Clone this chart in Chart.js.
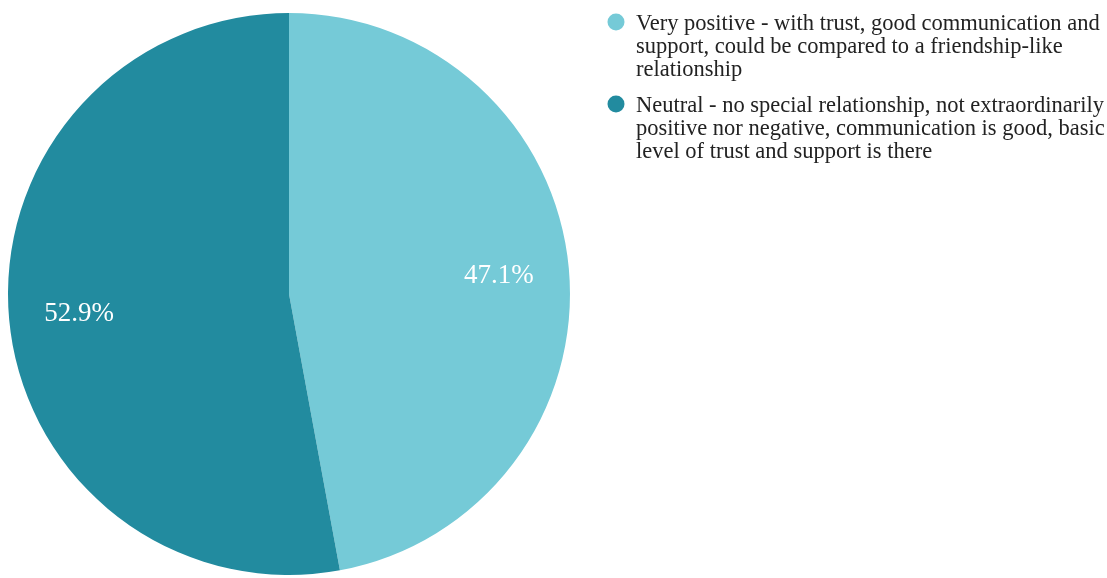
<!DOCTYPE html>
<html>
<head>
<meta charset="utf-8">
<script src="https://cdn.jsdelivr.net/npm/chart.js@4"></script>
<style>
  html, body { margin: 0; padding: 0; background: #fff; }
  #wrap { width: 1107px; height: 578px; position: relative; }
</style>
</head>
<body>
<div id="wrap"><canvas id="relChart"></canvas></div>
<script>
// answers, each legend entry split into its printed lines
var labelLines = [
  ['Very positive - with trust, good communication and',
   'support, could be compared to a friendship-like',
   'relationship'],
  ['Neutral - no special relationship, not extraordinarily',
   'positive nor negative, communication is good, basic',
   'level of trust and support is there']
];
var shares = [47.1, 52.9];
var colors = ['#75cad7', '#228b9f'];

// percent text inside each slice
var sliceLabels = {
  id: 'sliceLabels',
  afterDatasetsDraw: function(chart) {
    var ctx = chart.ctx;
    var meta = chart.getDatasetMeta(0);
    ctx.save();
    ctx.fillStyle = '#fff';
    ctx.font = '27px "Liberation Serif", serif';
    ctx.textAlign = 'center';
    ctx.textBaseline = 'middle';
    meta.data.forEach(function(arc, i) {
      var mid = (arc.startAngle + arc.endAngle) / 2;
      var d = arc.outerRadius * 0.75;
      ctx.fillText(shares[i].toFixed(1) + '%', arc.x + Math.cos(mid) * d, arc.y + Math.sin(mid) * d + 1);
    });
    ctx.restore();
  }
};

// legend on the right with wrapped lines
var sideLegend = {
  id: 'sideLegend',
  afterDraw: function(chart) {
    var ctx = chart.ctx;
    var x = 616, y = 30, lineH = 23;
    ctx.save();
    ctx.font = '22.5px "Liberation Serif", serif';
    ctx.textBaseline = 'alphabetic';
    labelLines.forEach(function(lines, i) {
      ctx.fillStyle = colors[i];
      ctx.beginPath();
      ctx.arc(x, y - 8, 8.5, 0, Math.PI * 2);
      ctx.fill();
      ctx.fillStyle = '#222';
      lines.forEach(function(t, j) {
        ctx.fillText(t, x + 20, y + j * lineH);
      });
      y += lines.length * lineH + 13;
    });
    ctx.restore();
  }
};

new Chart(document.getElementById('relChart'), {
  type: 'pie',
  data: {
    labels: labelLines.map(function(l) { return l.join(' '); }),
    datasets: [{
      data: shares,
      backgroundColor: colors,
      borderWidth: 0
    }]
  },
  options: {
    responsive: true,
    maintainAspectRatio: false,
    animation: false,
    layout: { padding: { top: 13, bottom: 3, left: 8, right: 537 } },
    plugins: {
      legend: { display: false },
      tooltip: { enabled: false }
    }
  },
  plugins: [sliceLabels, sideLegend]
});
</script>
</body>
</html>
